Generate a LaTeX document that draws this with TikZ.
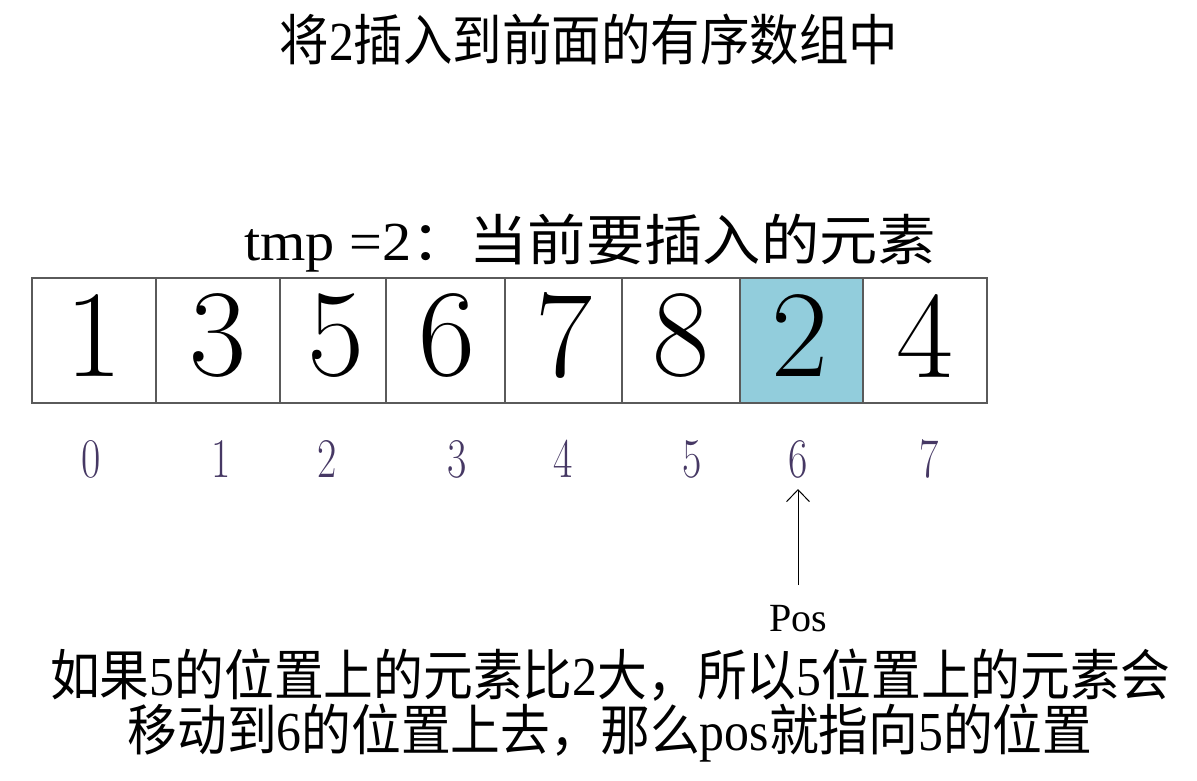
\documentclass[tikz,border=0pt]{standalone}
\usepackage{fontspec}
\usepackage{graphicx}
\setmainfont{Liberation Serif}
\newfontfamily\cjk{Noto Sans CJK SC}
\newfontfamily\lmr{Latin Modern Roman}
\usetikzlibrary{arrows.meta}
\definecolor{cellblue}{RGB}{146,205,220}
\definecolor{idxcol}{RGB}{70,56,100}
\definecolor{cellline}{RGB}{90,90,90}
\tikzset{
  cell/.style={draw=cellline, line width=1.2pt, minimum height=125pt, inner sep=0pt, outer sep=0pt},
  celltext/.style={inner sep=0pt, font=\lmr\fontsize{124}{124}\selectfont},
  idx/.style={inner sep=0pt, text=idxcol, font=\lmr\fontsize{56}{56}\selectfont},
  bigtext/.style={inner sep=0pt, font=\fontsize{55}{55}\selectfont},
}
\begin{document}
\begin{tikzpicture}[x=1pt,y=-1pt]
\useasboundingbox (0,0) rectangle (1197,781);
\node[bigtext] (title) at (589,40) {\scalebox{0.9}[1]{{\cjk 将}2{\cjk 插入到前面的有序数组中}}};
\node[bigtext] (tmp) at (590,243) {\scalebox{1.06}[1]{tmp =2{\cjk ：当前要插入的元素}}};
\node[cell, minimum width=124pt] (c0) at (94,340.5) {};
\node[cell, minimum width=124pt] (c1) at (218,340.5) {};
\node[cell, minimum width=106pt] (c2) at (333,340.5) {};
\node[cell, minimum width=119pt] (c3) at (445.5,340.5) {};
\node[cell, minimum width=117pt] (c4) at (563.5,340.5) {};
\node[cell, minimum width=118pt] (c5) at (681,340.5) {};
\node[cell, minimum width=123pt, fill=cellblue] (c6) at (801.5,340.5) {};
\node[cell, minimum width=124pt] (c7) at (925,340.5) {};
\node[celltext] (v0) at (94,336) {1};
\node[celltext] (v1) at (218,336) {3};
\node[celltext] (v2) at (336,336) {5};
\node[celltext] (v3) at (447,336) {6};
\node[celltext] (v4) at (564,336) {7};
\node[celltext] (v5) at (681,336) {8};
\node[celltext] (v6) at (800,336) {2};
\node[celltext] (v7) at (925,336) {4};
\node[idx] (i0) at (91,459) {\scalebox{0.75}[1]{0}};
\node[idx] (i1) at (221,459) {\scalebox{0.75}[1]{1}};
\node[idx] (i2) at (327,459) {\scalebox{0.75}[1]{2}};
\node[idx] (i3) at (457,459) {\scalebox{0.75}[1]{3}};
\node[idx] (i4) at (563,459) {\scalebox{0.75}[1]{4}};
\node[idx] (i5) at (692,459) {\scalebox{0.75}[1]{5}};
\node[idx] (i6) at (798,459) {\scalebox{0.75}[1]{6}};
\node[idx] (i7) at (929,459) {\scalebox{0.75}[1]{7}};
\node[inner sep=0pt, font=\fontsize{40}{40}\selectfont] (pos) at (798,619) {Pos};
\coordinate (tail) at (798,585);
\draw[line width=1pt, -{Straight Barb[length=12pt,width=23pt,line width=1pt]}] (tail) -- (798,489);
\node[bigtext] (l1) at (610,675) {\scalebox{0.905}[1]{{\cjk 如果}5{\cjk 的位置上的元素比}2{\cjk 大，所以}5{\cjk 位置上的元素会}}};
\node[bigtext] (l2) at (610,733) {\scalebox{0.905}[1]{{\cjk 移动到}6{\cjk 的位置上去，那么}pos{\cjk 就指向}5{\cjk 的位置}}};
\end{tikzpicture}
\end{document}
